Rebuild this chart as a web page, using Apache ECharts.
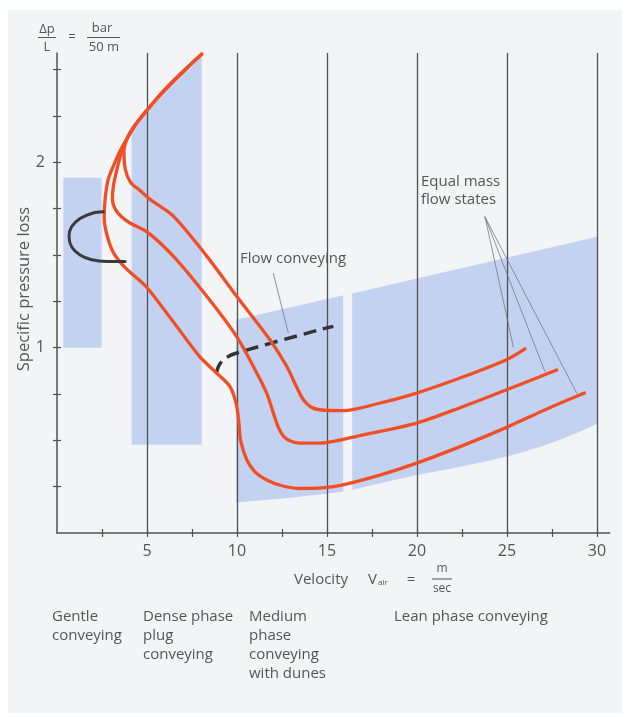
<!DOCTYPE html>
<html><head><meta charset="utf-8">
<script src="https://cdn.jsdelivr.net/npm/echarts@6/dist/echarts.min.js"></script>
<style>
html,body{margin:0;padding:0;background:#fff;}
#panel{position:absolute;left:8px;top:10px;width:614px;height:703px;background:#f3f4f5;}
#chart{position:absolute;left:0;top:0;width:628px;height:717px;}
</style></head><body>
<div id="panel"></div><div id="chart"></div>
<script>
// ---------- axes ----------
const xTickValues = [2.5, 5, 7.5, 10, 12.5, 15, 17.5, 20, 22.5, 25, 27.5, 30];
const xLabelValues = [5, 10, 15, 20, 25, 30];
const yTickValues = [0.25, 0.5, 0.75, 1, 1.25, 1.5, 1.75, 2, 2.25, 2.5];
const yLabelValues = [1, 2];

// ---------- conveying zones (velocity, pressure loss) ----------
const gentleZone = [[0.35, 1.0], [0.35, 1.917], [2.48, 1.917], [2.48, 1.0]];
const denseZone = [[4.15, 0.476], [4.15, 2.17], [4.3, 2.195], [4.9, 2.27], [5.6, 2.35], [6.4, 2.432], [7.2, 2.508], [8.04, 2.584], [8.04, 0.476]];
const mediumZone = [[9.95, 1.151], [15.9, 1.283], [15.9, 0.223], [13, 0.19], [9.95, 0.164]];
const leanZone = [[16.4, 1.292], [30, 1.598], [30, 0.59], [29, 0.545], [28, 0.505], [27, 0.47], [26, 0.44], [25, 0.413], [24, 0.39], [22, 0.35], [20, 0.313], [18, 0.27], [16.4, 0.232]];

// ---------- equal mass flow curves ----------
const curveTop = [[8.04, 2.584], [7.2, 2.508], [6.4, 2.432], [5.6, 2.35], [4.9, 2.27], [4.3, 2.195], [3.9, 2.13]];
const curveHigh = [[3.72, 2.06], [3.8, 1.96], [4.1, 1.89], [4.6, 1.85], [5.17, 1.80], [6.46, 1.71], [8.32, 1.494], [9.98, 1.277], [11.83, 1.043], [12.76, 0.90], [13.3, 0.79], [13.68, 0.72], [14.1, 0.68], [14.6, 0.665], [15.9, 0.66], [17.9, 0.70], [19.98, 0.755], [22.5, 0.84], [24.98, 0.935], [26, 0.993]];
const curveMid = [[3.6, 2.06], [3.35, 1.97], [3.13, 1.87], [3.08, 1.80], [3.25, 1.745], [3.6, 1.705], [4.1, 1.67], [5.0, 1.625], [6.46, 1.494], [8.32, 1.277], [9.98, 1.06], [10.9, 0.90], [11.65, 0.755], [12.02, 0.647], [12.3, 0.57], [12.6, 0.52], [13.0, 0.495], [13.5, 0.485], [14.6, 0.485], [17, 0.53], [19.98, 0.593], [22.5, 0.68], [24.98, 0.773], [27.76, 0.88]];
const curveLow = [[3.55, 2.07], [3.22, 2.0], [2.85, 1.91], [2.67, 1.80], [2.62, 1.70], [2.8, 1.60], [3.15, 1.51], [3.8, 1.43], [4.5, 1.37], [5.0, 1.325], [6.46, 1.14], [7.94, 0.95], [8.87, 0.863], [9.61, 0.79], [9.95, 0.70], [10.1, 0.60], [10.2, 0.50], [10.54, 0.395], [11.0, 0.33], [11.65, 0.286], [12.5, 0.255], [13.5, 0.24], [15.35, 0.25], [17.5, 0.30], [19.98, 0.377], [22.5, 0.47], [24.98, 0.57], [27, 0.66], [29.3, 0.755]];

// ---------- black curves ----------
const gentleLoop = [[2.57, 1.733], [2.02, 1.727], [1.28, 1.697], [0.81, 1.652], [0.67, 1.60], [0.81, 1.545], [1.28, 1.50], [1.93, 1.474], [2.76, 1.465], [3.78, 1.465]];
const flowConveying = [[8.85, 0.862], [9.0, 0.905], [9.3, 0.94], [9.98, 0.971], [14.6, 1.097], [15.35, 1.115]];

// ---------- annotation leaders ----------
const flowPointer = [[12.02, 1.40], [12.85, 1.08]];
const massPointers = [
  [[23.78, 1.705], [25.35, 1.005]],
  [[23.78, 1.705], [27.1, 0.872]],
  [[23.78, 1.705], [28.87, 0.755]]
];

// ---------- labels ----------
const zoneLabels = [
  { lines: ['Gentle', 'conveying'], x: 52 },
  { lines: ['Dense phase', 'plug', 'conveying'], x: 143 },
  { lines: ['Medium', 'phase', 'conveying', 'with dunes'], x: 249 },
  { lines: ['Lean phase conveying'], x: 394 }
];

const FONT = '"Open Sans", "Noto Sans", sans-serif';
const TXT = '#555';
const BLUE = '#c4d2f2';
const ORANGE = '#f04f26';
const GRID = '#505050';

const zones = [gentleZone, denseZone, mediumZone, leanZone];

const chart = echarts.init(document.getElementById('chart'), null, { renderer: 'canvas' });

function lineSeries(data, color, width, extra) {
  return Object.assign({
    type: 'line', data: data, symbol: 'none', smooth: 0.3, silent: true, z: 5,
    lineStyle: { color: color, width: width, cap: 'round', join: 'round' }
  }, extra || {});
}

const graphics = [];
function txt(text, x, y, size, align, vAlign, extra) {
  graphics.push(Object.assign({
    type: 'text', x: x, y: y, silent: true, z: 10,
    style: { text: text, font: size + 'px ' + FONT, fill: TXT, textAlign: align || 'left', textVerticalAlign: vAlign || 'middle' }
  }, extra || {}));
}
function hline(x1, x2, y) {
  graphics.push({ type: 'line', silent: true, z: 10, shape: { x1: x1, y1: y, x2: x2, y2: y }, style: { stroke: TXT, lineWidth: 1 } });
}

// formula top-left
txt('Δp', 47, 29, 13, 'center');
hline(38, 56, 37.5);
txt('L', 47, 47, 13, 'center');
txt('=', 72, 37, 13, 'center');
txt('bar', 102, 28, 13, 'center');
hline(87, 120, 37.5);
txt('50 m', 104, 47, 13, 'center');

// y axis title
txt('Specific pressure loss', 0, 0, 16.5, 'center', 'middle', { x: 24, y: 289, rotation: Math.PI / 2 });

// x axis title
txt('Velocity', 294, 580, 15, 'left');
txt('V', 368, 580, 15, 'left');
txt('air', 378, 583, 8, 'left');
txt('=', 411, 580, 15, 'center');
txt('m', 442, 569, 12, 'center');
hline(432, 452, 579);
txt('sec', 442, 589, 12, 'center');

// annotations
txt('Flow conveying', 240, 259, 15, 'left');
txt('Equal mass', 421, 182, 15, 'left');
txt('flow states', 421, 199.5, 15, 'left');

// zone labels
zoneLabels.forEach(function (z) {
  z.lines.forEach(function (l, i) { txt(l, z.x, 617 + i * 19, 15, 'left'); });
});

const series = [
  {
    type: 'custom', z: 1, silent: true,
    data: zones.map(function (z, i) { return [z[0][0], z[0][1], i]; }),
    renderItem: function (params, api) {
      const pts = zones[params.dataIndex].map(function (p) { return api.coord(p); });
      return { type: 'polygon', shape: { points: pts }, style: { fill: BLUE } };
    }
  },
  lineSeries(curveTop.concat(curveHigh), ORANGE, 3.3),
  lineSeries(curveTop.concat(curveMid), ORANGE, 3.3),
  lineSeries(curveTop.concat(curveLow), ORANGE, 3.3),
  lineSeries(gentleLoop, '#3a3a3a', 3),
  lineSeries(flowConveying, '#333', 3.5, { z: 4, lineStyle: { color: '#333', width: 3.5, type: [13, 7], cap: 'butt' } }),
  lineSeries(flowPointer, '#777', 0.8, { smooth: false, z: 6 })
];
massPointers.forEach(function (p) { series.push(lineSeries(p, '#777', 0.8, { smooth: false, z: 6 })); });

const axisBase = { type: 'value', min: 0, max: 30.7 };
const yBase = { type: 'value', min: 0, max: 2.59 };

chart.setOption({
  animation: false,
  backgroundColor: 'transparent',
  grid: { left: 57, right: 18.4, top: 53, bottom: 184, containLabel: false },
  xAxis: [
    Object.assign({}, axisBase, {
      position: 'bottom', z: 3,
      axisLine: { show: true, onZero: false, lineStyle: { color: GRID, width: 1.5 } },
      axisTick: { show: true, customValues: xTickValues, length: 4, lineStyle: { color: GRID, width: 1.2 } },
      axisLabel: { show: true, customValues: xLabelValues, color: TXT, fontSize: 16, fontFamily: FONT, margin: 10 },
      splitLine: { show: false }
    }),
    Object.assign({}, axisBase, {
      position: 'bottom', interval: 5, z: 3,
      axisLine: { show: false }, axisTick: { show: false }, axisLabel: { show: false },
      splitLine: { show: true, showMinLine: false, showMaxLine: false, lineStyle: { color: GRID, width: 1.3 } }
    }),
    Object.assign({}, axisBase, {
      position: 'bottom', z: 3,
      axisLine: { show: false },
      axisTick: { show: true, inside: true, customValues: xTickValues, length: 4, lineStyle: { color: GRID, width: 1.2 } },
      axisLabel: { show: false }, splitLine: { show: false }
    })
  ],
  yAxis: [
    Object.assign({}, yBase, {
      position: 'left', z: 3,
      axisLine: { show: true, onZero: false, lineStyle: { color: GRID, width: 1.5 } },
      axisTick: { show: true, customValues: yTickValues, length: 4, lineStyle: { color: GRID, width: 1.2 } },
      axisLabel: { show: true, customValues: yLabelValues, color: TXT, fontSize: 16, fontFamily: FONT, margin: 12 },
      splitLine: { show: false }
    }),
    Object.assign({}, yBase, {
      position: 'left', z: 3,
      axisLine: { show: false },
      axisTick: { show: true, inside: true, customValues: yTickValues, length: 4, lineStyle: { color: GRID, width: 1.2 } },
      axisLabel: { show: false }, splitLine: { show: false }
    })
  ],
  series: series,
  graphic: graphics
});
</script></body></html>
